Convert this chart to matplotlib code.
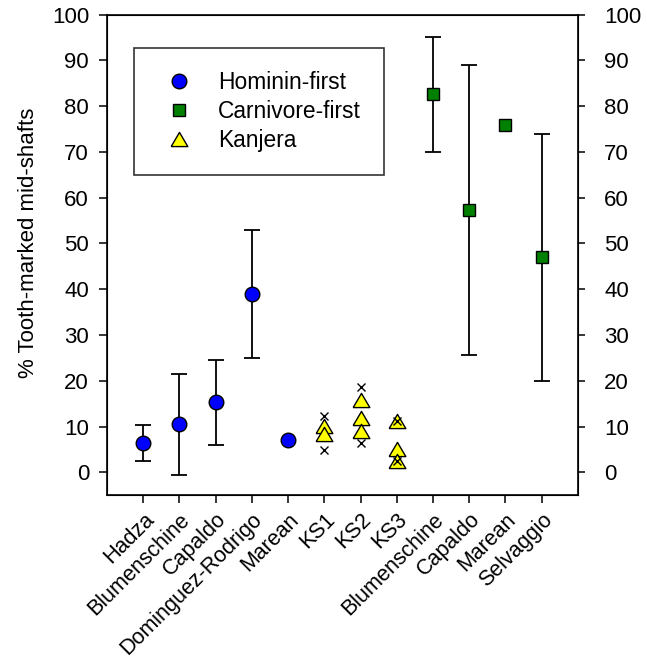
import numpy as np
import matplotlib
matplotlib.use("Agg")
import matplotlib.pyplot as plt
import matplotlib.transforms as mtransforms

plt.rcParams['font.family'] = ['Liberation Sans', 'DejaVu Sans']

# categorias del eje x
labels = ['Hadza', 'Blumenschine', 'Capaldo', 'Dominguez-Rodrigo', 'Marean',
          'KS1', 'KS2', 'KS3', 'Blumenschine', 'Capaldo', 'Marean', 'Selvaggio']

# Hominin-first
hom_x = [1, 2, 3, 4, 5]
hom_y = [6.4, 10.5, 15.4, 39.0, 7.0]
hom_lo = [2.4, -0.6, 6.0, 25.0, np.nan]
hom_hi = [10.3, 21.4, 24.6, 53.0, np.nan]

# Carnivore-first
carn_x = [9, 10, 11, 12]
carn_y = [82.6, 57.4, 75.9, 47.0]
carn_lo = [70.0, 25.7, np.nan, 20.0]
carn_hi = [95.2, 89.1, np.nan, 74.0]

# Kanjera
kan_x = [6, 6, 7, 7, 7, 8, 8, 8]
kan_y = [10.1, 8.3, 15.9, 11.9, 9.1, 11.2, 5.1, 2.4]
kan_rng_x = [6, 6, 7, 7, 8, 8]
kan_rng_y = [12.3, 4.8, 18.6, 6.4, 11.2, 2.4]

FS = 16
tri = [(-1, -0.85), (1, -0.85), (0, 0.85), (-1, -0.85)]  # triangulo mas plano

fig = plt.figure(figsize=(6.47, 6.7), dpi=100)
ax = fig.add_axes([0.1655, 0.261, 0.7275, 0.717])


def draw_err(x, y, lo, hi):
    x = np.array(x)
    y = np.array(y)
    lo = np.array(lo)
    hi = np.array(hi)
    ok = ~np.isnan(lo)
    ax.errorbar(x[ok], y[ok], yerr=[y[ok] - lo[ok], hi[ok] - y[ok]],
                fmt='none', ecolor='black', elinewidth=1.3, capsize=6,
                capthick=1.3, zorder=2)


draw_err(hom_x, hom_y, hom_lo, hom_hi)
draw_err(carn_x, carn_y, carn_lo, carn_hi)

ax.plot(hom_x, hom_y, 'o', ms=10.5, mfc='#0000ff', mec='black', mew=1.0,
        ls='none', zorder=3, label='Hominin-first')
ax.plot(carn_x, carn_y, 's', ms=9, mfc='#008000', mec='black', mew=1.0,
        ls='none', zorder=3, label='Carnivore-first')
ax.plot(kan_x, kan_y, marker=tri, ms=12, mfc='#ffff00', mec='black', mew=1.0,
        ls='none', zorder=3, label='Kanjera')
ax.plot(kan_rng_x, kan_rng_y, 'x', ms=6, mec='black', mew=1.0,
        ls='none', zorder=4)

ax.set_xlim(0, 13)
ax.set_ylim(-5, 100)
ax.set_yticks(np.arange(0, 101, 10))
ax.set_xticks(np.arange(1, 13))
ax.set_xticklabels(labels, rotation=45, ha='right', rotation_mode='anchor',
                   fontsize=15.5)
offset = mtransforms.ScaledTranslation(5 / 72, 0, fig.dpi_scale_trans)
for lab in ax.get_xticklabels():
    lab.set_transform(lab.get_transform() + offset)
ax.tick_params(axis='y', direction='out', length=6, width=1.1, pad=7,
               labelsize=FS)
ax.tick_params(axis='x', direction='out', length=6, width=1.1, pad=4)
ax.set_ylabel('% Tooth-marked mid-shafts', fontsize=FS)
ax.yaxis.set_label_coords(-0.145, 0.525)
for s in ax.spines.values():
    s.set_linewidth(1.2)

ax2 = ax.twinx()
ax2.set_ylim(-5, 100)
ax2.set_yticks(np.arange(0, 101, 10))
ax2.tick_params(axis='y', direction='out', length=5, width=1.1, pad=14,
                labelsize=FS)

leg = ax.legend(loc='upper left', bbox_to_anchor=(0.057, 0.931), fontsize=16.4,
                frameon=True, fancybox=False, edgecolor='black',
                borderpad=1.0, handletextpad=0.7, labelspacing=0.27,
                borderaxespad=0, handlelength=2.0)
leg.get_frame().set_linewidth(1.2)

fig.savefig('out.png', dpi=100)
